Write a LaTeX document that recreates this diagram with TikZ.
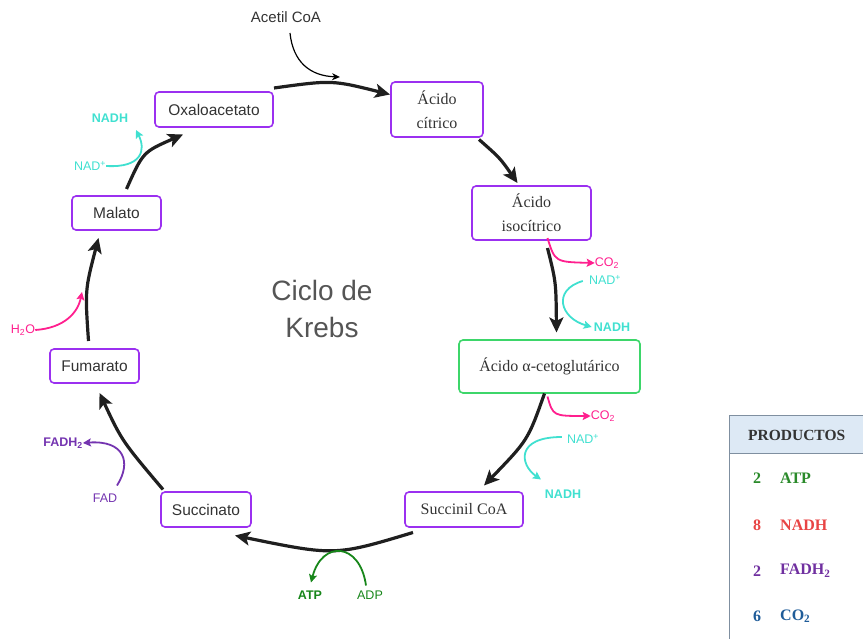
\documentclass[tikz,border=0pt]{standalone}
\usepackage{fontspec}
\setmainfont{Liberation Serif}
\setsansfont{Liberation Sans}
\usetikzlibrary{arrows.meta,calc}
\definecolor{boxpurple}{HTML}{9B30F0}
\definecolor{boxgreen}{HTML}{3DD66A}
\definecolor{txt}{HTML}{333333}
\definecolor{cyanc}{HTML}{40E0D0}
\definecolor{pinkc}{HTML}{FF1F8E}
\definecolor{atpg}{HTML}{17861A}
\definecolor{fadp}{HTML}{7434B0}
\definecolor{titleg}{HTML}{555555}
\definecolor{tabline}{HTML}{7F8FA0}
\definecolor{headblue}{HTML}{DDE9F5}
\definecolor{tgreen}{HTML}{2A8A2A}
\definecolor{tred}{HTML}{E84545}
\definecolor{tpurple}{HTML}{7030A0}
\definecolor{tblue}{HTML}{1F5C99}
\begin{document}
\begin{tikzpicture}[x=1pt,y=-1pt,
  sbox/.style={draw=boxpurple, line width=1.6pt, rounded corners=4pt, fill=white, inner sep=0pt, text=txt, align=center, font=\sffamily\fontsize{15.5}{19}\selectfont},
  rbox/.style={sbox, font=\rmfamily\fontsize{16}{24}\selectfont},
  cyc/.style={line width=3.2pt, draw=black!88, -{Stealth[length=15pt,width=14pt,inset=3.5pt]}},
  side/.style={line width=1.8pt, -{Stealth[length=8pt,width=8pt,inset=1.5pt]}},
  lab/.style={inner sep=0pt, font=\sffamily\fontsize{12.5}{14}\selectfont},
  blab/.style={lab, font=\sffamily\bfseries\fontsize{12.5}{14}\selectfont},
  tab/.style={inner sep=0pt, font=\rmfamily\bfseries\fontsize{16}{18}\selectfont}
]
\useasboundingbox (0,0) rectangle (863,639);

% nodes of the cycle
\node[sbox, minimum width=118pt, minimum height=35pt] (ox) at (214,109.5) {Oxaloacetato};
\node[rbox, minimum width=92pt, minimum height=55pt] (cit) at (437,109.5) {Ácido\\cítrico};
\node[rbox, minimum width=119pt, minimum height=54pt] (iso) at (531.5,213) {Ácido\\isocítrico};
\node[rbox, draw=boxgreen, minimum width=181pt, minimum height=53pt] (alf) at (549.5,366.5) {Ácido α-cetoglutárico};
\node[rbox, minimum width=118pt, minimum height=35pt] (sci) at (464,509.5) {Succinil CoA};
\node[sbox, minimum width=90pt, minimum height=35pt] (suc) at (206,509.5) {Succinato};
\node[sbox, minimum width=89pt, minimum height=34pt] (fum) at (94.5,366) {Fumarato};
\node[sbox, minimum width=89pt, minimum height=34pt] (mal) at (116.5,213) {Malato};

\node[inner sep=0pt, text=titleg, align=center, font=\sffamily\fontsize{28}{37}\selectfont] (title) at (322,308.5) {Ciclo de\\Krebs};

\node[inner sep=0pt, text=txt, font=\sffamily\fontsize{15}{18}\selectfont] (acetil) at (286,17) {Acetil CoA};

% cycle arrows
\draw[cyc] ($(ox)+(60,-21.5)$) .. controls (332,80) .. ($(cit)+(-47,-15)$);
\draw[line width=1.2pt, -{Stealth[length=8pt,width=7pt]}] ($(acetil)+(4,16)$) .. controls (293,62) and (310,76) .. (340,77);
\draw[cyc] ($(cit)+(42,30)$) .. controls (500,158) .. ($(iso)+(-14,-30)$);
\draw[cyc] ($(iso)+(16,35)$) .. controls (556,282) .. ($(alf)+(7,-34)$);
\draw[cyc] ($(alf)+(-5,27)$) .. controls (528,440) .. ($(sci)+(20,-24)$);
\draw[cyc] ($(sci)+(-51,23)$) .. controls (335,556) .. ($(suc)+(29,26)$);
\draw[cyc] ($(suc)+(-43,-20)$) .. controls (122,441) .. ($(fum)+(5,27)$);
\draw[cyc] ($(fum)+(-6,-25)$) .. controls (85,290) .. ($(mal)+(-18,25)$);
\draw[cyc] ($(mal)+(10,-24)$) .. controls (143,152) .. ($(ox)+(-31,25)$);

% side reactions
\node[lab, text=pinkc] (co2a) at (607,263) {CO\textsubscript{2}};
\draw[side, pinkc] ($(iso)+(16,25)$) .. controls (555,262) .. (co2a.west);
\node[lab, text=cyanc] (nad1) at (605,280) {NAD\textsuperscript{+}};
\node[blab, text=cyanc] (nadh1) at (612,327) {NADH};
\draw[side, cyanc] ($(nad1.west)+(-6,1)$) .. controls (552,290) and (560,318) .. ($(nadh1.west)+(-2,0)$);

\node[lab, text=pinkc] (co2b) at (603,416) {CO\textsubscript{2}};
\draw[side, pinkc] ($(alf)+(-2,30)$) .. controls (553,416) .. (co2b.west);
\node[lab, text=cyanc] (nad2) at (583,439) {NAD\textsuperscript{+}};
\node[blab, text=cyanc] (nadh2) at (563,494) {NADH};
\draw[side, cyanc] ($(nad2.west)+(-5,-2)$) .. controls (515,437) and (520,465) .. ($(nadh2.north)+(-22,-10)$);

\node[blab, text=atpg] (atp) at (310,595) {ATP};
\node[lab, text=atpg] (adp) at (370,595) {ADP};
\draw[side, atpg] ($(adp.north)+(-4,-5)$) .. controls (360,542) and (322,540) .. ($(atp.north)+(1,-8)$);

\node[blab, text=fadp] (fadh) at (63,443) {FADH\textsubscript{2}};
\node[lab, text=fadp] (fad) at (105,498) {FAD};
\draw[side, fadp] ($(fad.north)+(12,-8)$) .. controls (132,462) and (124,440) .. (fadh.east);

\node[lab, text=pinkc] (h2o) at (23,330) {H\textsubscript{2}O};
\draw[side, pinkc] (h2o.east) .. controls (65,328) and (78,312) .. (82,292);

\node[lab, text=cyanc] (nad3) at (90,166) {NAD\textsuperscript{+}};
\node[blab, text=cyanc] (nadh3) at (110,118) {NADH};
\draw[side, cyanc] (nad3.east) .. controls (142,168) and (146,150) .. (136,130);

% products table
\fill[headblue] (729,415) rectangle (880,453);
\draw[tabline, line width=1pt] (880,415) -- (729,415) -- (729,660);
\draw[tabline, line width=1pt] (729,453) -- (880,453);
\node[tab, font=\rmfamily\bfseries\fontsize{15.5}{18}\selectfont, text=txt, anchor=west] (head) at (748,435) {PRODUCTOS};
\node[tab, text=tgreen] (n1) at (757,478) {2};
\node[tab, text=tgreen, anchor=west] (p1) at (780,478) {ATP};
\node[tab, text=tred] (n2) at (757,525) {8};
\node[tab, text=tred, anchor=west] (p2) at (780,525) {NADH};
\node[tab, text=tpurple] (n3) at (757,571) {2};
\node[tab, text=tpurple, anchor=west] (p3) at (780,571) {FADH\textsubscript{2}};
\node[tab, text=tblue] (n4) at (757,616) {6};
\node[tab, text=tblue, anchor=west] (p4) at (780,616) {CO\textsubscript{2}};
\end{tikzpicture}
\end{document}
